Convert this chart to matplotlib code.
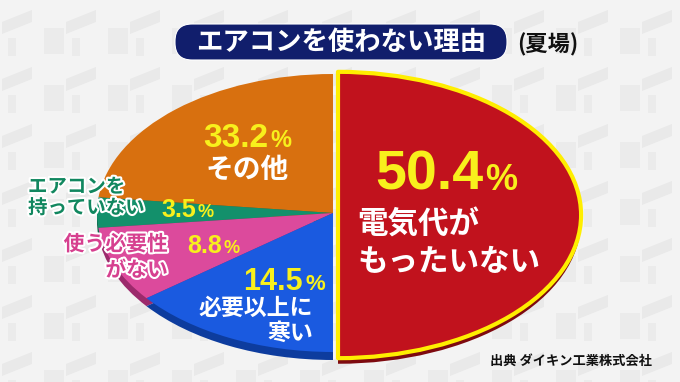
import matplotlib
matplotlib.use('Agg')
import matplotlib.pyplot as plt
import matplotlib.patheffects as pe
from matplotlib.patches import Wedge, FancyBboxPatch, Polygon, Rectangle

plt.rcParams['font.family'] = ['Noto Sans CJK JP', 'DejaVu Sans']

# データ
title = 'エアコンを使わない理由'
subtitle = '(夏場)'
source = '出典 ダイキン工業株式会社'
labels = ['電気代が\nもったいない', 'その他', 'エアコンを\n持っていない', '使う必要性\nがない', '必要以上に\n寒い']
values = [50.4, 33.2, 3.5, 8.8, 14.5]
colors = ['#c1121d', '#d8700f', '#13906b', '#dc4a9c', '#1a5ae0']
shades = ['#7e0a10', '#94490a', '#0b5e45', '#9c2a6c', '#0d3c9e']

W, H = 680, 382
fig = plt.figure(figsize=(W / 100, H / 100), dpi=100, facecolor='#f3f3f3')

# 背景の模様 (薄いブロック)
bg = fig.add_axes([0, 0, 1, 1])
bg.set_xlim(0, W)
bg.set_ylim(H, 0)
bg.axis('off')
bg.patch.set_alpha(0)
for i in range(-1, 12):
    for j in range(-1, 8):
        x0 = 32 + 64 * i
        y0 = 8 + 57 * j
        bg.add_patch(Polygon([(x0 - 30, y0 + 14), (x0, y0 + 2), (x0, y0 + 14), (x0 - 30, y0 + 26)],
                             closed=True, facecolor='#e9e9e9', edgecolor='none'))
        bg.add_patch(Rectangle((x0 + 12, y0 + 20), 20, 26, facecolor='#ebebeb', edgecolor='none'))
        bg.add_patch(Rectangle((x0 + 40, y0 + 30), 8, 18, facecolor='#ebebeb', edgecolor='none'))

# 楕円の円グラフ (中心と半径はピクセル)
cx, cy, rx, ry = 333, 213, 236, 139
ax = fig.add_axes([0, 0, 1, 1])
ax.set_xlim(-cx / rx, (W - cx) / rx)
ax.set_ylim(-(H - cy) / ry, cy / ry)
ax.axis('off')
ax.patch.set_alpha(0)

# 角度: 赤は右半分、小さい項目は 3.6度/%、その他は残り
spans = {0: (-90.0, 90.0)}
a = 270.0
for i in [4, 3, 2]:
    spans[i] = (a - values[i] * 3.6, a)
    a -= values[i] * 3.6
spans[1] = (90.0, a)

depth = 8 / ry
red_c = (5 / rx, -2 / ry)
red_r = 1.03

for i in [1, 2, 3, 4]:
    t1, t2 = spans[i]
    ax.add_patch(Wedge((0, -depth), 1, t1, t2, facecolor=shades[i], edgecolor='none'))
for i in [1, 2, 3, 4]:
    t1, t2 = spans[i]
    ax.add_patch(Wedge((0, 0), 1, t1, t2, facecolor=colors[i], edgecolor='none'))

t1, t2 = spans[0]
ax.add_patch(Wedge((red_c[0], red_c[1] - depth * 0.7), red_r, t1, t2, facecolor=shades[0], edgecolor='none'))
ax.add_patch(Wedge(red_c, red_r, t1, t2, facecolor=colors[0], edgecolor='#ffee00',
                   linewidth=3, joinstyle='round'))

# 文字用 (ピクセル座標)
tx = fig.add_axes([0, 0, 1, 1])
tx.set_xlim(0, W)
tx.set_ylim(H, 0)
tx.axis('off')
tx.patch.set_alpha(0)

tx.add_patch(FancyBboxPatch((175, 24), 332, 36, boxstyle='round,pad=0,rounding_size=17',
                            facecolor='#111e6c', edgecolor='white', linewidth=0.8))
tx.text(341, 42.5, title, color='white', fontsize=19, fontweight='bold', ha='center', va='center')
tx.text(548, 45, subtitle, color='#111111', fontsize=16, fontweight='bold', ha='center', va='center')
tx.text(571, 361, source, color='#111111', fontsize=9.5, fontweight='bold', ha='center', va='center')

num_font = ['Liberation Sans', 'DejaVu Sans']
yellow = '#f8f01c'


def pct(x, base, v, size, psize):
    tx.text(x, base, f'{v}', color=yellow, fontsize=size, fontweight='bold',
            family=num_font, ha='right', va='baseline')
    tx.text(x + 2, base, '%', color=yellow, fontsize=psize, fontweight='bold',
            family=num_font, ha='left', va='baseline')


pct(483, 190, values[0], 40, 26)
pct(268, 147, values[1], 24, 17)
pct(196, 217, values[2], 18, 13)
pct(222, 253, values[3], 18, 13)
pct(303, 290, values[4], 22, 16)

white = dict(color='white', fontweight='bold')
l0 = labels[0].split('\n')
tx.text(357, 225, l0[0], fontsize=22, ha='left', va='center', **white)
tx.text(357, 262, l0[1], fontsize=22, ha='left', va='center', **white)

tx.text(247, 170, labels[1], fontsize=20, ha='center', va='center', **white)

outline = [pe.withStroke(linewidth=3, foreground='white')]
l2 = labels[2].split('\n')
tx.text(28, 187, l2[0], color='#11875f', fontsize=14, fontweight='bold', ha='left', va='center',
        path_effects=outline)
tx.text(28, 208, l2[1], color='#11875f', fontsize=14, fontweight='bold', ha='left', va='center',
        path_effects=outline)

l3 = labels[3].split('\n')
tx.text(168, 244, l3[0], color='#d6408f', fontsize=15, fontweight='bold', ha='right', va='center',
        path_effects=outline)
tx.text(168, 270, l3[1], color='#d6408f', fontsize=15, fontweight='bold', ha='right', va='center',
        path_effects=outline)

l4 = labels[4].split('\n')
tx.text(313, 308, l4[0], fontsize=16.5, ha='right', va='center', **white)
tx.text(313, 333, l4[1], fontsize=16.5, ha='right', va='center', **white)

fig.savefig('out.png', dpi=100, facecolor=fig.get_facecolor())
